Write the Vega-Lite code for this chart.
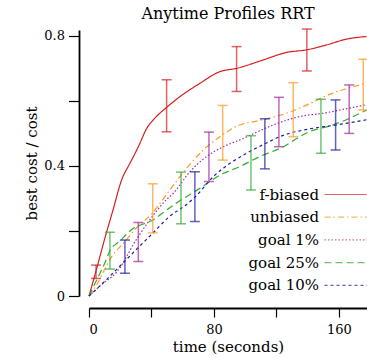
{
  "$schema": "https://vega.github.io/schema/vega-lite/v6.json",
  "width": 278,
  "height": 266,
  "autosize": {"type": "none"},
  "padding": {"left": 89, "top": 30, "right": 0, "bottom": 62},
  "title": {"text": "Anytime Profiles RRT", "font": "DejaVu Serif, serif", "fontSize": 16, "fontWeight": "normal", "color": "black", "anchor": "middle", "offset": 6},
  "config": {
    "view": {"stroke": null},
    "font": "DejaVu Serif, serif",
    "axis": {"grid": false, "domainColor": "black", "domainWidth": 1.8, "tickColor": "black", "tickWidth": 1.2, "labelColor": "black", "titleColor": "black", "labelFont": "DejaVu Serif, serif", "titleFont": "DejaVu Serif, serif", "labelFontSize": 13, "titleFontSize": 15, "titleFontWeight": "normal"},
    "legend": {"orient": "none", "legendX": 228, "legendY": 157, "title": null, "labelFont": "DejaVu Serif, serif", "labelFontSize": 15, "labelColor": "black", "labelAlign": "right", "labelOffset": -13, "symbolType": "M0,0H10", "symbolSize": 100, "symbolStrokeWidth": 1.2, "rowPadding": 6.7, "padding": 0}
  },
  "datasets": {
    "curves": [
      {"series": "f-biased", "t": 0, "v": 0},
      {"series": "f-biased", "t": 4.5, "v": 0.077},
      {"series": "f-biased", "t": 10, "v": 0.175},
      {"series": "f-biased", "t": 15.4, "v": 0.265},
      {"series": "f-biased", "t": 20.9, "v": 0.357},
      {"series": "f-biased", "t": 26.2, "v": 0.408},
      {"series": "f-biased", "t": 31.6, "v": 0.459},
      {"series": "f-biased", "t": 36.9, "v": 0.515},
      {"series": "f-biased", "t": 42.2, "v": 0.547},
      {"series": "f-biased", "t": 49.7, "v": 0.58},
      {"series": "f-biased", "t": 58.2, "v": 0.613},
      {"series": "f-biased", "t": 71, "v": 0.654},
      {"series": "f-biased", "t": 83.8, "v": 0.69},
      {"series": "f-biased", "t": 94.5, "v": 0.7},
      {"series": "f-biased", "t": 111.6, "v": 0.726},
      {"series": "f-biased", "t": 126.5, "v": 0.749},
      {"series": "f-biased", "t": 139.3, "v": 0.757},
      {"series": "f-biased", "t": 152, "v": 0.772},
      {"series": "f-biased", "t": 165, "v": 0.79},
      {"series": "f-biased", "t": 177.7, "v": 0.798},
      {"series": "unbiased", "t": 0, "v": 0},
      {"series": "unbiased", "t": 5, "v": 0.035},
      {"series": "unbiased", "t": 10.9, "v": 0.09},
      {"series": "unbiased", "t": 14.5, "v": 0.121},
      {"series": "unbiased", "t": 22, "v": 0.162},
      {"series": "unbiased", "t": 30.5, "v": 0.21},
      {"series": "unbiased", "t": 40, "v": 0.252},
      {"series": "unbiased", "t": 47, "v": 0.295},
      {"series": "unbiased", "t": 58.2, "v": 0.367},
      {"series": "unbiased", "t": 73.2, "v": 0.449},
      {"series": "unbiased", "t": 83.8, "v": 0.49},
      {"series": "unbiased", "t": 96.6, "v": 0.526},
      {"series": "unbiased", "t": 109.4, "v": 0.54},
      {"series": "unbiased", "t": 126.5, "v": 0.562},
      {"series": "unbiased", "t": 135, "v": 0.578},
      {"series": "unbiased", "t": 156.2, "v": 0.624},
      {"series": "unbiased", "t": 177.7, "v": 0.654},
      {"series": "goal 1%", "t": 0, "v": 0},
      {"series": "goal 1%", "t": 8, "v": 0.035},
      {"series": "goal 1%", "t": 18, "v": 0.075},
      {"series": "goal 1%", "t": 30.1, "v": 0.172},
      {"series": "goal 1%", "t": 36.5, "v": 0.218},
      {"series": "goal 1%", "t": 49.3, "v": 0.295},
      {"series": "goal 1%", "t": 54, "v": 0.316},
      {"series": "goal 1%", "t": 64.6, "v": 0.382},
      {"series": "goal 1%", "t": 75.3, "v": 0.429},
      {"series": "goal 1%", "t": 86, "v": 0.459},
      {"series": "goal 1%", "t": 96.6, "v": 0.48},
      {"series": "goal 1%", "t": 118, "v": 0.526},
      {"series": "goal 1%", "t": 135, "v": 0.552},
      {"series": "goal 1%", "t": 150, "v": 0.562},
      {"series": "goal 1%", "t": 167, "v": 0.578},
      {"series": "goal 1%", "t": 177.7, "v": 0.588},
      {"series": "goal 25%", "t": 0, "v": 0},
      {"series": "goal 25%", "t": 5, "v": 0.05},
      {"series": "goal 25%", "t": 10, "v": 0.1},
      {"series": "goal 25%", "t": 13.4, "v": 0.139},
      {"series": "goal 25%", "t": 20, "v": 0.17},
      {"series": "goal 25%", "t": 26.2, "v": 0.2},
      {"series": "goal 25%", "t": 40.8, "v": 0.234},
      {"series": "goal 25%", "t": 55.7, "v": 0.285},
      {"series": "goal 25%", "t": 71, "v": 0.331},
      {"series": "goal 25%", "t": 83.8, "v": 0.372},
      {"series": "goal 25%", "t": 96.6, "v": 0.398},
      {"series": "goal 25%", "t": 109.4, "v": 0.429},
      {"series": "goal 25%", "t": 124.4, "v": 0.459},
      {"series": "goal 25%", "t": 135, "v": 0.49},
      {"series": "goal 25%", "t": 141.4, "v": 0.506},
      {"series": "goal 25%", "t": 154.2, "v": 0.523},
      {"series": "goal 25%", "t": 167, "v": 0.547},
      {"series": "goal 25%", "t": 177.7, "v": 0.572},
      {"series": "goal 10%", "t": 0, "v": 0},
      {"series": "goal 10%", "t": 10.9, "v": 0.049},
      {"series": "goal 10%", "t": 19.4, "v": 0.09},
      {"series": "goal 10%", "t": 30.1, "v": 0.142},
      {"series": "goal 10%", "t": 40.8, "v": 0.193},
      {"series": "goal 10%", "t": 51.4, "v": 0.244},
      {"series": "goal 10%", "t": 62.1, "v": 0.28},
      {"series": "goal 10%", "t": 68, "v": 0.305},
      {"series": "goal 10%", "t": 79.6, "v": 0.367},
      {"series": "goal 10%", "t": 100.9, "v": 0.439},
      {"series": "goal 10%", "t": 112.6, "v": 0.468},
      {"series": "goal 10%", "t": 122.2, "v": 0.49},
      {"series": "goal 10%", "t": 143.6, "v": 0.516},
      {"series": "goal 10%", "t": 158.5, "v": 0.526},
      {"series": "goal 10%", "t": 177.7, "v": 0.542}
    ],
    "bars": [
      {"series": "f-biased", "t": 4.5, "lo": 0.054, "hi": 0.095},
      {"series": "f-biased", "t": 49.7, "lo": 0.505, "hi": 0.665},
      {"series": "f-biased", "t": 94.5, "lo": 0.629, "hi": 0.767},
      {"series": "f-biased", "t": 139.5, "lo": 0.692, "hi": 0.821},
      {"series": "goal 25%", "t": 13.4, "lo": 0.083, "hi": 0.196},
      {"series": "goal 25%", "t": 58.9, "lo": 0.222, "hi": 0.381},
      {"series": "goal 25%", "t": 103.7, "lo": 0.326, "hi": 0.493},
      {"series": "goal 25%", "t": 148.5, "lo": 0.439, "hi": 0.605},
      {"series": "goal 10%", "t": 23, "lo": 0.07, "hi": 0.172},
      {"series": "goal 10%", "t": 67.8, "lo": 0.229, "hi": 0.382},
      {"series": "goal 10%", "t": 112.6, "lo": 0.391, "hi": 0.545},
      {"series": "goal 10%", "t": 157.9, "lo": 0.449, "hi": 0.603},
      {"series": "goal 1%", "t": 31.6, "lo": 0.106, "hi": 0.226},
      {"series": "goal 1%", "t": 76.8, "lo": 0.352, "hi": 0.504},
      {"series": "goal 1%", "t": 121.6, "lo": 0.459, "hi": 0.611},
      {"series": "goal 1%", "t": 166.6, "lo": 0.5, "hi": 0.649},
      {"series": "unbiased", "t": 40.8, "lo": 0.194, "hi": 0.345},
      {"series": "unbiased", "t": 85.6, "lo": 0.418, "hi": 0.586},
      {"series": "unbiased", "t": 130.8, "lo": 0.49, "hi": 0.656},
      {"series": "unbiased", "t": 175.6, "lo": 0.572, "hi": 0.728}
    ]
  },
  "layer": [
    {
      "data": {"name": "curves"},
      "mark": {"type": "line", "interpolate": "monotone", "strokeWidth": 1.2},
      "encoding": {
        "x": {"field": "t", "type": "quantitative", "scale": {"domain": [0, 178], "nice": false, "zero": false},
          "axis": {"offset": 12, "values": [0, 40, 80, 120, 160], "labelExpr": "datum.value % 80 == 0 ? datum.label : ''", "tickSize": 9, "title": "time (seconds)", "titlePadding": 3, "labelPadding": 6,
            "encode": {"ticks": {"update": {"y2": {"signal": "(datum.value == 40 || datum.value == 120) ? 5 : 9"}}}}}},
        "y": {"field": "v", "type": "quantitative", "scale": {"domain": [0, 0.818], "nice": false},
          "axis": {"offset": 10, "values": [0, 0.2, 0.4, 0.6, 0.8], "labelExpr": "datum.value == 0 ? '0' : (datum.value == 0.4 || datum.value == 0.8 ? format(datum.value, '.1f') : '')", "tickSize": 10.5, "title": "best cost / cost", "titlePadding": 4, "labelPadding": 4,
            "encode": {"ticks": {"update": {"x2": {"signal": "(datum.value == 0.2 || datum.value == 0.6) ? -7 : -10.5"}}}}}},
        "color": {"field": "series", "type": "nominal",
          "scale": {"domain": ["f-biased", "unbiased", "goal 1%", "goal 25%", "goal 10%"], "range": ["#d41f1f", "#ff9922", "#a02ba0", "#33aa33", "#1f1fa0"]}},
        "strokeDash": {"field": "series", "type": "nominal",
          "scale": {"domain": ["f-biased", "unbiased", "goal 1%", "goal 25%", "goal 10%"], "range": [[1, 0], [6, 3, 1.5, 3], [1.5, 2], [7, 4], [3, 3]]}}
      }
    },
    {
      "data": {"name": "bars"},
      "mark": {"type": "rule", "strokeWidth": 1.5, "opacity": 0.7},
      "encoding": {
        "x": {"field": "t", "type": "quantitative"},
        "y": {"field": "lo", "type": "quantitative"},
        "y2": {"field": "hi"},
        "color": {"field": "series", "type": "nominal"}
      }
    },
    {
      "data": {"name": "bars"},
      "mark": {"type": "tick", "orient": "horizontal", "size": 10, "thickness": 1.5, "opacity": 0.7},
      "encoding": {
        "x": {"field": "t", "type": "quantitative"},
        "y": {"field": "lo", "type": "quantitative"},
        "color": {"field": "series", "type": "nominal"}
      }
    },
    {
      "data": {"name": "bars"},
      "mark": {"type": "tick", "orient": "horizontal", "size": 10, "thickness": 1.5, "opacity": 0.7},
      "encoding": {
        "x": {"field": "t", "type": "quantitative"},
        "y": {"field": "hi", "type": "quantitative"},
        "color": {"field": "series", "type": "nominal"}
      }
    }
  ]
}
